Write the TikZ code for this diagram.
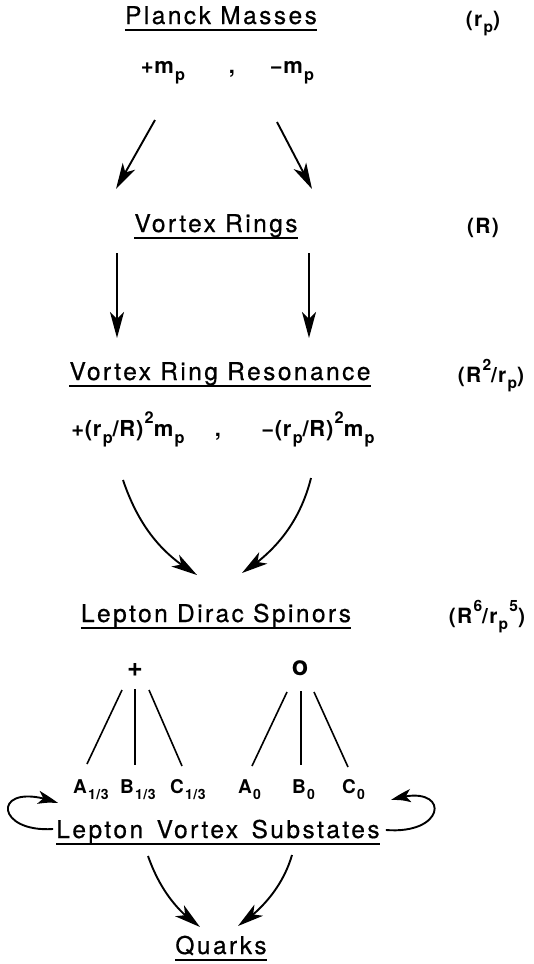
\documentclass[tikz,border=0pt]{standalone}
\usepackage{fontspec}
\usepackage{graphicx}
\setmainfont{TeX Gyre Heros}
\usetikzlibrary{arrows.meta,bending}

% lowered and raised indices in text
\newcommand\lo[1]{\kern0.06em\raisebox{-0.32em}{\scalebox{0.74}{#1}}}
\newcommand\hi[1]{\kern0.06em\raisebox{0.55em}{\scalebox{0.74}{#1}}}
\newcommand\wsp{\hspace{0.55em}}

\newcommand\headfont{\fontsize{24.5}{28}\selectfont\addfontfeature{LetterSpace=10,FakeBold=0.6}}
\newcommand\formfont{\fontsize{22}{26}\selectfont\bfseries\addfontfeature{LetterSpace=3}}
\newcommand\sclfont{\fontsize{21}{24}\selectfont\bfseries\addfontfeature{LetterSpace=6}}
\newcommand\subfont{\fontsize{19}{22}\selectfont\bfseries\addfontfeature{LetterSpace=4}}

\tikzset{
  headtext/.style={font=\headfont, inner sep=0pt, anchor=base},
  formula/.style={font=\formfont, inner sep=0pt, anchor=base},
  scalelabel/.style={font=\sclfont, inner sep=0pt, anchor=base},
  substate/.style={font=\subfont, inner sep=0pt, anchor=base west},
  sign/.style={font=\fontsize{27}{30}\selectfont\bfseries, inner sep=0pt},
  uline/.style={line width=1.9pt},
  flow/.style={line width=1.9pt, -{Stealth[length=26pt,width=14pt,inset=7pt]}},
  loopflow/.style={line width=1.9pt, -{Stealth[length=22pt,width=13pt,inset=6pt,bend]}},
  branch/.style={line width=1.6pt},
}

\begin{document}
\begin{tikzpicture}[x=1pt,y=-1pt]
\useasboundingbox (0,0) rectangle (533,964);

% headings with their scale labels
\node[headtext] (pm)  at (221,24)  {Planck Masses};
\node[scalelabel] (s1) at (483,26) {(r\lo{p})};
\node[headtext] (vr)  at (216,232) {Vortex Rings};
\node[scalelabel] (s2) at (483,233) {(R)};
\node[headtext] (vrr) at (220,380) {Vortex Ring Resonance};
\node[scalelabel] (s3) at (491,382) {(R\hi{2}/r\lo{p})};
\node[headtext] (lds) at (216,622) {Lepton Dirac Spinors};
\node[scalelabel] (s4) at (487,623) {(R\hi{6}/r\lo{p}\hi{5})};
\node[headtext] (lvs) at (218,838) {Lepton\wsp Vortex\wsp Substates};
\node[headtext] (q)   at (221,954) {Quarks};

\foreach \n in {pm,vr,vrr,lds,lvs,q}
  \draw[uline] ([yshift=-6pt]\n.base west) -- ([yshift=-6pt]\n.base east);

% masses
\node[formula] (mp) at (163,73) {+m\lo{p}};
\node[formula] (c1) at (232,73) {,};
\node[formula] (mm) at (292,73) {−m\lo{p}};

\node[formula] (fl) at (128,436) {+(r\lo{p}/R)\hi{2}m\lo{p}};
\node[formula] (c2) at (218,436) {,};
\node[formula] (fr) at (318,436) {−(r\lo{p}/R)\hi{2}m\lo{p}};

% arrow end points
\coordinate (a1) at (155,120);  \coordinate (b1) at (116,189);
\coordinate (a2) at (277,122);  \coordinate (b2) at (312,189);
\coordinate (a3) at (117,253);  \coordinate (b3) at (117,338);
\coordinate (a4) at (309,253);  \coordinate (b4) at (309,338);
\coordinate (a5) at (123,480);  \coordinate (b5) at (197,575);
\coordinate (a6) at (311,478);  \coordinate (b6) at (242,573);
\coordinate (a7) at (148,856);  \coordinate (b7) at (200,927);
\coordinate (a8) at (292,855);  \coordinate (b8) at (238,926);

\draw[flow] (a1) -- (b1);
\draw[flow] (a2) -- (b2);
\draw[flow] (a3) -- (b3);
\draw[flow] (a4) -- (b4);
\draw[flow] (a5) .. controls (140,530) and (165,556) .. (b5);
\draw[flow] (a6) .. controls (300,522) and (275,552) .. (b6);
\draw[flow] (a7) .. controls (160,890) and (178,912) .. (b7);
\draw[flow] (a8) .. controls (283,886) and (262,910) .. (b8);

% spinor branches
\node[sign] (plus) at (135,670) {+};
\node[sign] (zero) at (300,668) {o};

\node[substate] (A13) at (73,793)  {A\lo{1/3}};
\node[substate] (B13) at (120,793) {B\lo{1/3}};
\node[substate] (C13) at (170,793) {C\lo{1/3}};
\node[substate] (A0)  at (238,793) {A\lo{0}};
\node[substate] (B0)  at (292,793) {B\lo{0}};
\node[substate] (C0)  at (342,793) {C\lo{0}};

\draw[branch] (122,690) -- (87,764);
\draw[branch] (135,689) -- (135,765);
\draw[branch] (149,690) -- (182,766);
\draw[branch] (287,692) -- (252,766);
\draw[branch] (301,691) -- (301,765);
\draw[branch] (314,692) -- (348,767);

% feedback loops around the substates
\draw[loopflow] ([xshift=-3pt,yshift=9pt]lvs.base west) .. controls (-8,833) and (-8,778) .. ([xshift=-15pt,yshift=-10pt]A13.base west);
\draw[loopflow] ([xshift=6pt,yshift=8pt]lvs.base east) .. controls (450,835) and (450,780) .. ([xshift=26pt,yshift=-7pt]C0.base east);
\end{tikzpicture}
\end{document}
